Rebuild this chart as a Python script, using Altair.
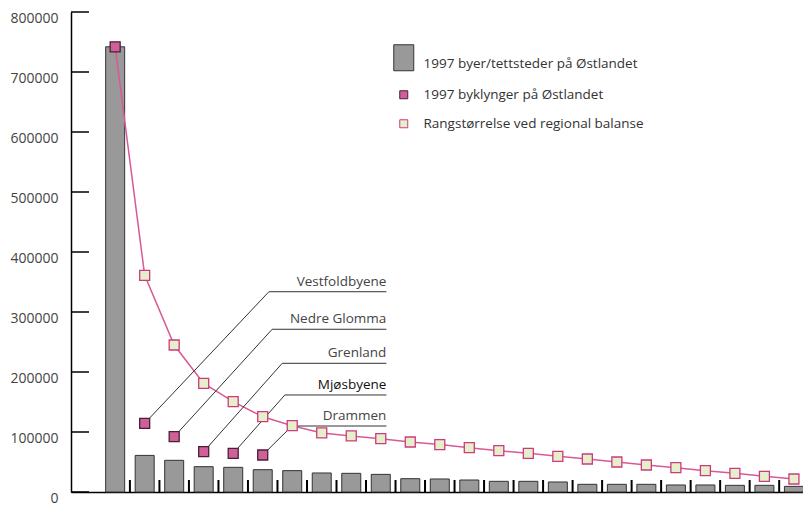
import altair as alt
import pandas as pd

# ---- data ----
S1 = "1997 byer/tettsteder på Østlandet"
S2 = "1997 byklynger på Østlandet"
S3 = "Rangstørrelse ved regional balanse"
series_names = [S1, S2, S3]

bar_values = [742000, 61000, 52800, 42200, 41100, 37200, 35600, 31700, 31100, 29400,
              22200, 21700, 20000, 17800, 17800, 16700, 12800, 12800, 12800, 11700,
              11700, 11100, 11100, 9400]
cluster_values = [742000, 114500, 92200, 67200, 64400, 61700]
rank_values = [742000, 361000, 245000, 181000, 150500, 125500, 110500, 98500, 93500,
               88900, 83300, 79000, 73900, 68900, 64400, 59400, 55000, 50000, 45000,
               40600, 35600, 31100, 26100, 21700]

label_names = ["Vestfoldbyene", "Nedre Glomma", "Grenland", "Mjøsbyene", "Drammen"]
label_targets = [1, 2, 3, 4, 5]
label_elbow_x = [5.21, 5.32, 5.66, 5.75, 5.99]
label_elbow_y = [333800, 271200, 214500, 161700, 110000]
label_end_x = 9.19
label_colors = ["#444444", "#444444", "#444444", "#111111", "#444444"]

y_ticks = list(range(0, 800001, 100000))
x_boundaries = [i + 0.5 for i in range(len(bar_values) - 1)]

# ---- tables ----
bars = pd.DataFrame({"i": range(len(bar_values)), "v": bar_values, "series": S1})
clusters = pd.DataFrame({"i": range(len(cluster_values)), "v": cluster_values, "series": S2})
rank = pd.DataFrame({"i": range(len(rank_values)), "v": rank_values, "series": S3})
labels = pd.DataFrame({
    "name": label_names,
    "i": label_targets,
    "v": [cluster_values[t] for t in label_targets],
    "ex": label_elbow_x,
    "ey": label_elbow_y,
    "endx": label_end_x,
    "col": label_colors,
})
yt = pd.DataFrame({"v": y_ticks})
xb = pd.DataFrame({"b": x_boundaries})

FONT = "Open Sans"
xscale = alt.Scale(domain=[-1.327, 23.138], nice=False, zero=False)
yscale = alt.Scale(domain=[0, 800000], nice=False)

X = alt.X("i:Q", scale=xscale,
          axis=alt.Axis(labels=False, ticks=False, title=None, grid=False,
                        domainColor="black", domainWidth=1.5))
Y = alt.Y("v:Q", scale=yscale,
          axis=alt.Axis(values=y_ticks, format="d", ticks=False, title=None, grid=False,
                        labelPadding=13, labelOffset=6, labelFont=FONT,
                        labelFontSize=14, labelColor="#444444",
                        domainColor="black", domainWidth=1.5))

fill_scale = alt.Scale(domain=series_names, range=["#999999", "#d0609a", "#e6efc9"])
stroke_scale = alt.Scale(domain=series_names, range=["#333333", "#4a1f35", "#cc3a80"])
rect_path = "M-2.5,-4.75L2.5,-4.75L2.5,1.75L-2.5,1.75Z"
shape_scale = alt.Scale(domain=series_names, range=[rect_path, "square", "square"])

FILL = alt.Fill("series:N", scale=fill_scale, title=None)
STROKE = alt.Stroke("series:N", scale=stroke_scale, title=None)
SHAPE = alt.Shape("series:N", scale=shape_scale, title=None)

bar_layer = alt.Chart(bars).mark_bar(size=19, strokeWidth=1).encode(
    x=X, y=Y, fill=FILL, stroke=STROKE)

line_layer = alt.Chart(rank).mark_line(color="#d85a95", strokeWidth=1.5).encode(
    x="i:Q", y="v:Q")

ytick_layer = alt.Chart(yt).mark_rule(color="black", strokeWidth=1.5).encode(
    y="v:Q", x=alt.value(0), x2=alt.value(18))

xtick_layer = alt.Chart(xb).mark_rule(color="black", strokeWidth=2).encode(
    x="b:Q", y=alt.value(480), y2=alt.value(468))

diag_layer = alt.Chart(labels).mark_rule(color="#333333", strokeWidth=1).encode(
    x="i:Q", y="v:Q", x2="ex:Q", y2="ey:Q")
horiz_layer = alt.Chart(labels).mark_rule(color="#333333", strokeWidth=1).encode(
    x="ex:Q", x2="endx:Q", y="ey:Q")
text_layer = alt.Chart(labels).mark_text(
    align="right", baseline="bottom", dy=-3, font=FONT, fontSize=13.5).encode(
    x="endx:Q", y="ey:Q", text="name:N", color=alt.Color("col:N", scale=None))

rank_points = alt.Chart(rank[rank["i"] >= 1]).mark_point(
    filled=True, size=100, strokeWidth=1.3, opacity=1).encode(
    x="i:Q", y="v:Q", fill=FILL, stroke=STROKE, shape=SHAPE)

cluster_points = alt.Chart(clusters).mark_point(
    filled=True, size=100, strokeWidth=1.3, opacity=1).encode(
    x="i:Q", y="v:Q", fill=FILL, stroke=STROKE, shape=SHAPE)

chart = alt.layer(
    bar_layer, line_layer, diag_layer, horiz_layer, text_layer,
    rank_points, cluster_points, ytick_layer, xtick_layer
).properties(
    width=732, height=480,
    autosize=alt.AutoSizeParams(type="none"),
    padding={"left": 63, "top": 4, "right": 0, "bottom": 15},
).configure_view(stroke=None).configure_legend(
    orient="none", legendX=326, legendY=45, title=None, labelLimit=0,
    symbolSize=64, symbolStrokeWidth=1, labelFont=FONT, labelFontSize=13.5,
    labelColor="#333333", labelOffset=13, rowPadding=14, padding=0,
    symbolOpacity=1,
)

chart.save("out.html", embed_options={"renderer": "svg", "actions": False})
